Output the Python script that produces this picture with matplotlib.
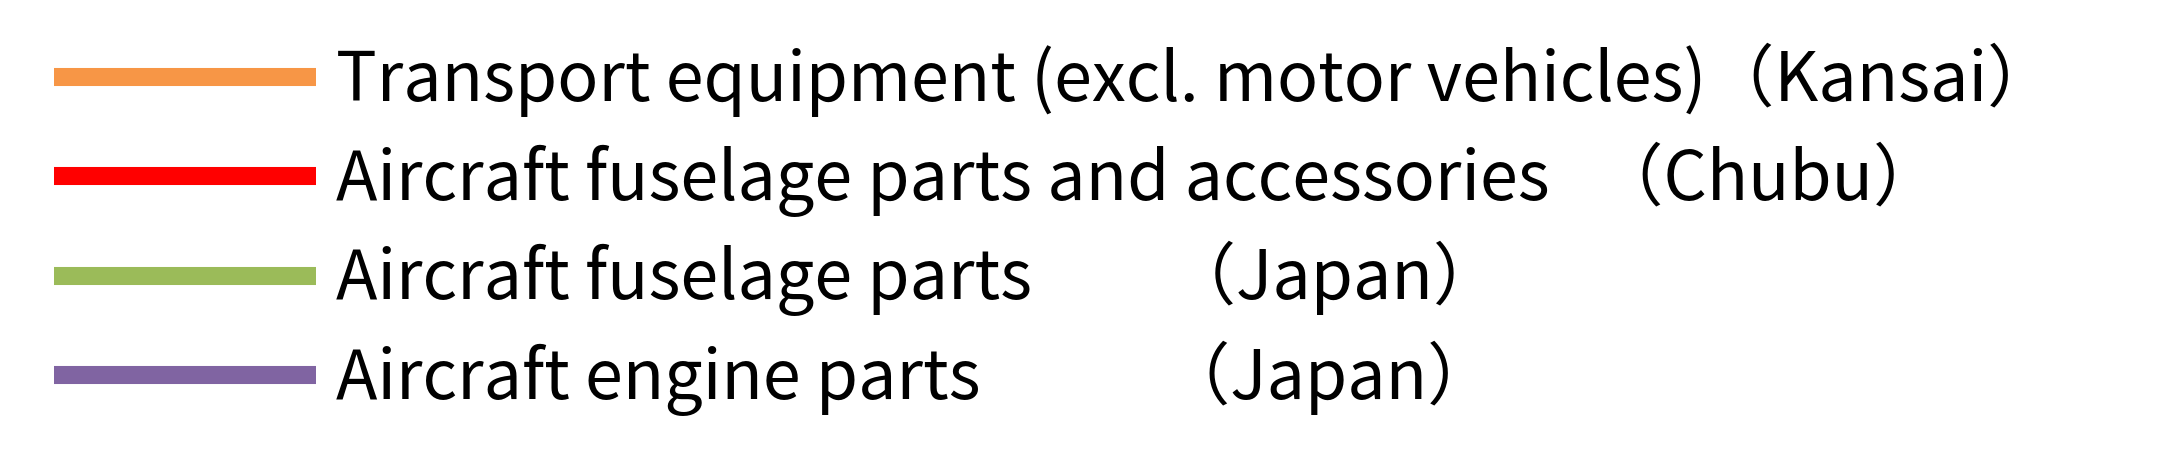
import matplotlib
matplotlib.use("Agg")
import matplotlib.pyplot as plt

plt.rcParams['font.family'] = ['Noto Sans CJK JP', 'DejaVu Sans']

##! Legend entries
labels = [
    "Transport equipment (excl. motor vehicles)（Kansai）",
    "Aircraft fuselage parts and accessories   （Chubu）",
    "Aircraft fuselage parts　　（Japan）",
    "Aircraft engine parts　　   （Japan）",
]
colors = ["#F79646", "#FF0000", "#9BBB59", "#8064A2"]

fig = plt.figure(figsize=(21.83, 4.74), dpi=100)
ax = fig.add_axes([0, 0, 1, 1])
ax.axis('off')

for lab, col in zip(labels, colors):
    ax.plot([], [], color=col, lw=13, solid_capstyle='butt', label=lab)

leg = fig.legend(loc='upper left', bbox_to_anchor=(0.0, 1.025),
                 frameon=False, fontsize=49,
                 handlelength=3.84, handletextpad=0.3,
                 labelspacing=0.36, borderaxespad=0, borderpad=0.8)

fig.savefig("out.png", dpi=100)
